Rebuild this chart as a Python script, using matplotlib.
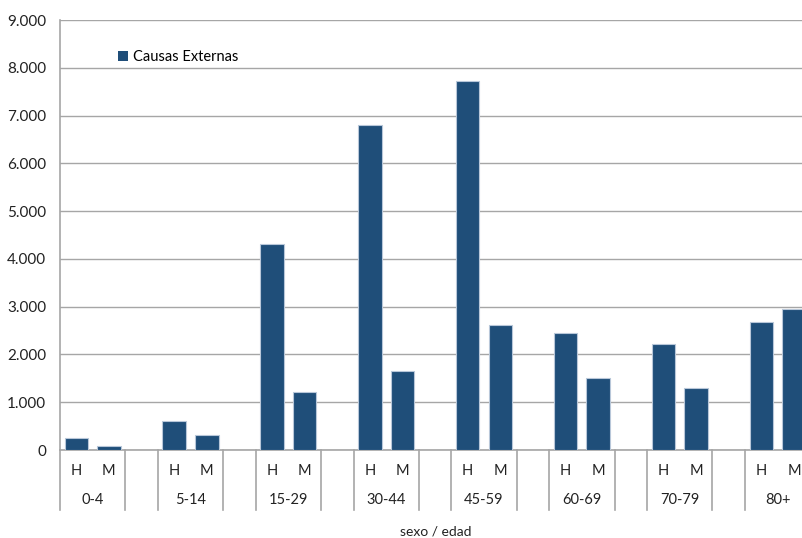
import matplotlib.pyplot as plt
from matplotlib.ticker import FuncFormatter
from matplotlib.patches import Patch

plt.rcParams['font.family'] = ['Lato', 'DejaVu Sans']

# data
groups = ['0-4', '5-14', '15-29', '30-44', '45-59', '60-69', '70-79', '80+']
sexes = ['H', 'M']
hombres = [260, 613, 4303, 6800, 7720, 2454, 2224, 2671]
mujeres = [85, 320, 1207, 1659, 2621, 1513, 1290, 2943]
series_name = 'Causas Externas'

bar_color = '#1F4E79'
grid_color = '#A6A6A6'
text_color = '#222222'
W, H = 802, 538

fig = plt.figure(figsize=(W / 100, H / 100), dpi=100)
# plot area runs past the right edge, like the cropped original
slot_px = 32.62
n_slots = 3 * len(groups)
ax = fig.add_axes([60 / W, (H - 450) / H, n_slots * slot_px / W, 430 / H])

xs_h = [3 * i for i in range(len(groups))]
xs_m = [3 * i + 1 for i in range(len(groups))]
ax.bar(xs_h, hombres, width=0.72, color=bar_color, edgecolor='#B8C7D9',
       linewidth=0.8, zorder=3)
ax.bar(xs_m, mujeres, width=0.72, color=bar_color, edgecolor='#B8C7D9',
       linewidth=0.8, zorder=3)

ax.set_xlim(-0.5, n_slots - 0.5)
ax.set_ylim(0, 9000)
ax.set_yticks(range(0, 9001, 1000))
ax.yaxis.set_major_formatter(FuncFormatter(lambda v, p: f'{int(v):,}'.replace(',', '.')))
ax.tick_params(axis='y', length=0, labelsize=11, pad=10, colors=text_color)
ax.set_xticks([])
ax.grid(axis='y', color=grid_color, linewidth=1, zorder=0)

for side in ['top', 'right']:
    ax.spines[side].set_visible(False)
ax.spines['left'].set_color(grid_color)
ax.spines['bottom'].set_color(grid_color)
ax.spines['left'].set_linewidth(1.2)
ax.spines['bottom'].set_linewidth(1.2)

# two-level category axis drawn by hand
trans = ax.get_xaxis_transform()
depth = 60 / 430
for i, g in enumerate(groups):
    for k, s in enumerate(sexes):
        ax.text(3 * i + k, -21 / 430, s, transform=trans, ha='center',
                va='center', fontsize=10.5, color=text_color)
    ax.text(3 * i + 0.5, -50 / 430, g, transform=trans, ha='center',
            va='center', fontsize=10.5, color=text_color)
for b in range(n_slots + 1):
    if b % 3 == 0 or b % 3 == 2:
        ax.plot([b - 0.5, b - 0.5], [0, -depth], transform=trans,
                color=grid_color, linewidth=1.2, clip_on=False)

fig.text(436 / W, 1 - 532 / H, 'sexo / edad', ha='center', va='center',
         fontsize=10, color=text_color)

ax.legend(handles=[Patch(facecolor=bar_color, label=series_name)],
          loc='center left', bbox_to_anchor=(105 / W, 1 - 57 / H),
          bbox_transform=fig.transFigure, frameon=False, fontsize=10.5,
          handlelength=0.7, handleheight=0.7, handletextpad=0.35)

fig.savefig('out.png', dpi=100)
